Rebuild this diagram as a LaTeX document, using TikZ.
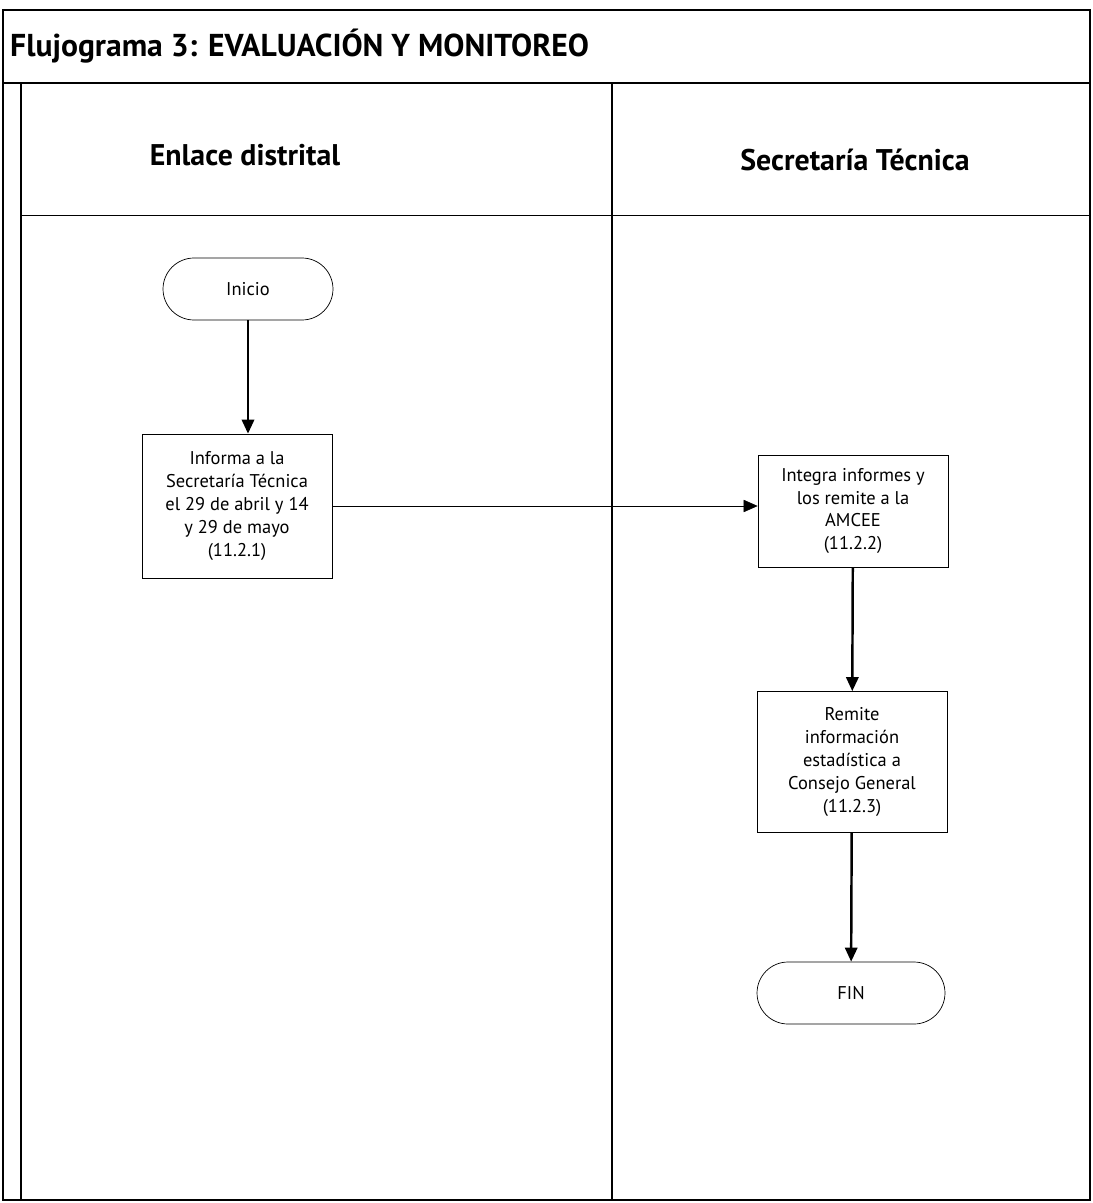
\documentclass[tikz,border=0pt]{standalone}
\usepackage{fontspec}
\setmainfont{PT Sans}
\usepackage{tikz}
\usetikzlibrary{arrows.meta,positioning}

\tikzset{
    lanetitle/.style={font=\bfseries\fontsize{17}{20}\selectfont},
    procbox/.style={draw,thin,minimum width=3.8cm,align=center,inner sep=2pt,
        font=\fontsize{10.5}{13}\selectfont},
    termbox/.style={draw,thin,rounded corners=0.62cm,minimum width=3.4cm,minimum height=1.24cm,
        font=\fontsize{10.5}{13}\selectfont},
    flow/.style={-{Triangle[length=8pt,width=7pt]},line width=1.4pt}
}

\begin{document}
\begin{tikzpicture}[x=0.02cm,y=-0.02cm]
    \useasboundingbox (0,0) rectangle (1092,1203);
    % Frame and title band
    \draw[thick] (3,10) rectangle (1090,1200);
    \draw[thick] (3,83) -- (1090,83);
    \node[anchor=west,font=\bfseries\fontsize{18}{21}\selectfont] (title) at (4,46) {Flujograma 3: EVALUACIÓN Y MONITOREO};

    % Swimlanes
    \draw[thick] (21,83) -- (21,1200);
    \draw[thick] (612,83) -- (612,1200);
    \draw (21,215) -- (1090,215);
    \node[lanetitle] (enlace) at (245,155) {Enlace distrital};
    \node[lanetitle] (secret) at (855,160) {Secretaría Técnica};

    % Flow steps
    \node[termbox] (inicio) at (248,289) {Inicio};
    \node[procbox,minimum height=2.88cm] (inform) at (237,506) {Informa a la\\Secretaría Técnica\\el 29 de abril y 14\\y 29 de mayo\\(11.2.1)};
    \node[procbox,minimum height=2.24cm] (integra) at (853,511) {Integra informes y\\los remite a la\\AMCEE\\(11.2.2)};
    \node[procbox,minimum height=2.82cm] (remite) at (852,762) {Remite\\información\\estadística a\\Consejo General\\(11.2.3)};
    \node[termbox,minimum width=3.76cm] (fin) at (851,993) {FIN};

    % Connectors
    \draw[flow] (inicio) -- (inicio |- inform.north);
    \draw[thin,-{Triangle[length=8pt,width=7pt]}] (inform.east) -- (integra.west |- inform.east);
    \draw[flow] (integra) -- (remite);
    \draw[flow] (remite) -- (fin);
\end{tikzpicture}
\end{document}
